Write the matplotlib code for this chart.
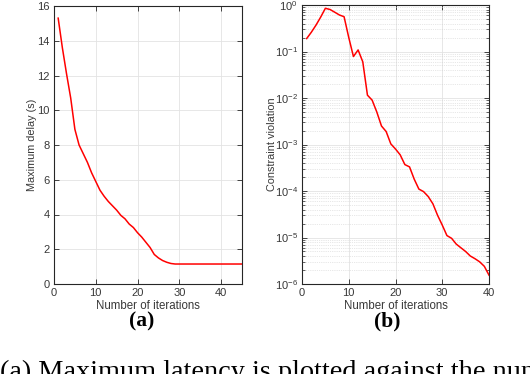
import numpy as np
import matplotlib.pyplot as plt
from matplotlib.ticker import LogLocator, NullFormatter

# (a) maximum delay per iteration
iters_a = list(range(1, 46))
delay = [15.3, 13.6, 12.1, 10.7, 8.9, 8.0, 7.5, 7.0, 6.4, 5.9,
         5.4, 5.05, 4.75, 4.5, 4.25, 3.95, 3.75, 3.45, 3.25, 2.95,
         2.7, 2.4, 2.1, 1.7, 1.5, 1.35, 1.25, 1.18, 1.15, 1.15,
         1.15, 1.15, 1.15, 1.15, 1.15, 1.15, 1.15, 1.15, 1.15, 1.15,
         1.15, 1.15, 1.15, 1.15, 1.15]

# (b) constraint violation per iteration
iters_b = list(range(1, 41))
violation = [0.19, 0.26, 0.37, 0.55, 0.85, 0.8, 0.7, 0.61, 0.56, 0.2,
             0.078, 0.108, 0.06, 0.0115, 0.009, 0.005, 0.0025, 0.0019, 0.00103, 0.0008,
             0.0006, 0.00037, 0.00033, 0.00018, 0.00011, 9.7e-5, 7.6e-5, 5.3e-5, 3.0e-5, 1.85e-5,
             1.1e-5, 9.6e-6, 7.2e-6, 6.0e-6, 5.0e-6, 4.0e-6, 3.5e-6, 3.0e-6, 2.4e-6, 1.55e-6]

plt.rcParams['font.family'] = ['Liberation Sans', 'DejaVu Sans']
plt.rcParams['mathtext.fontset'] = 'custom'
plt.rcParams['mathtext.rm'] = 'Liberation Sans'
plt.rcParams['mathtext.it'] = 'Liberation Sans'

axc = '#262626'
txt = '#383838'
fig = plt.figure(figsize=(5.3, 3.74), dpi=100)
ax1 = fig.add_axes([54 / 530, 90 / 374, 188 / 530, 278 / 374])
ax2 = fig.add_axes([302 / 530, 90 / 374, 187 / 530, 279 / 374])


def style(ax):
    for s in ax.spines.values():
        s.set_color(axc)
        s.set_linewidth(0.8)
    ax.tick_params(which='both', direction='in', top=True, right=True,
                   colors=axc, labelsize=8, labelcolor=txt)
    ax.tick_params(which='major', length=3.5, width=0.6, pad=3)
    ax.tick_params(which='minor', length=2, width=0.5)
    ax.set_xlabel('Number of iterations', fontsize=8.3, color=txt, labelpad=1)


ax1.plot(iters_a, delay, color='red', lw=1.1)
ax1.set_xlim(0, 45)
ax1.set_ylim(0, 16)
ax1.set_xticks([0, 10, 20, 30, 40])
ax1.set_yticks(range(0, 17, 2))
ax1.grid(True, color='#e3e3e3', lw=0.6)
ax1.set_axisbelow(True)
style(ax1)
ax1.set_ylabel('Maximum delay (s)', fontsize=7.8, color=txt, labelpad=0.5)

ax2.semilogy(iters_b, violation, color='red', lw=1.1)
ax2.set_xlim(0, 40)
ax2.set_ylim(1e-6, 1)
ax2.set_xticks([0, 10, 20, 30, 40])
ax2.yaxis.set_major_locator(LogLocator(base=10, numticks=10))
ax2.yaxis.set_minor_locator(LogLocator(base=10, subs=np.arange(2, 10), numticks=20))
ax2.yaxis.set_minor_formatter(NullFormatter())
ax2.grid(True, which='major', color='#e3e3e3', lw=0.6)
ax2.grid(True, which='minor', axis='y', color='#d0d0d0', lw=0.5, ls=':')
ax2.set_axisbelow(True)
style(ax2)
ax2.set_ylabel('Constraint violation', fontsize=7.8, color=txt, labelpad=-1.5)

fig.text(142 / 530, 1 - 321 / 374, '(a)', family='Liberation Serif', weight='bold',
         fontsize=15.5, ha='center', va='center')
fig.text(387 / 530, 1 - 321 / 374, '(b)', family='Liberation Serif', weight='bold',
         fontsize=15.5, ha='center', va='center')
fig.text(0.0, 1 - 379 / 374, '(a) Maximum latency is plotted against the number of iterations',
         family='Liberation Serif', fontsize=20.3, ha='left', va='baseline')

fig.savefig('out.png', dpi=100)
